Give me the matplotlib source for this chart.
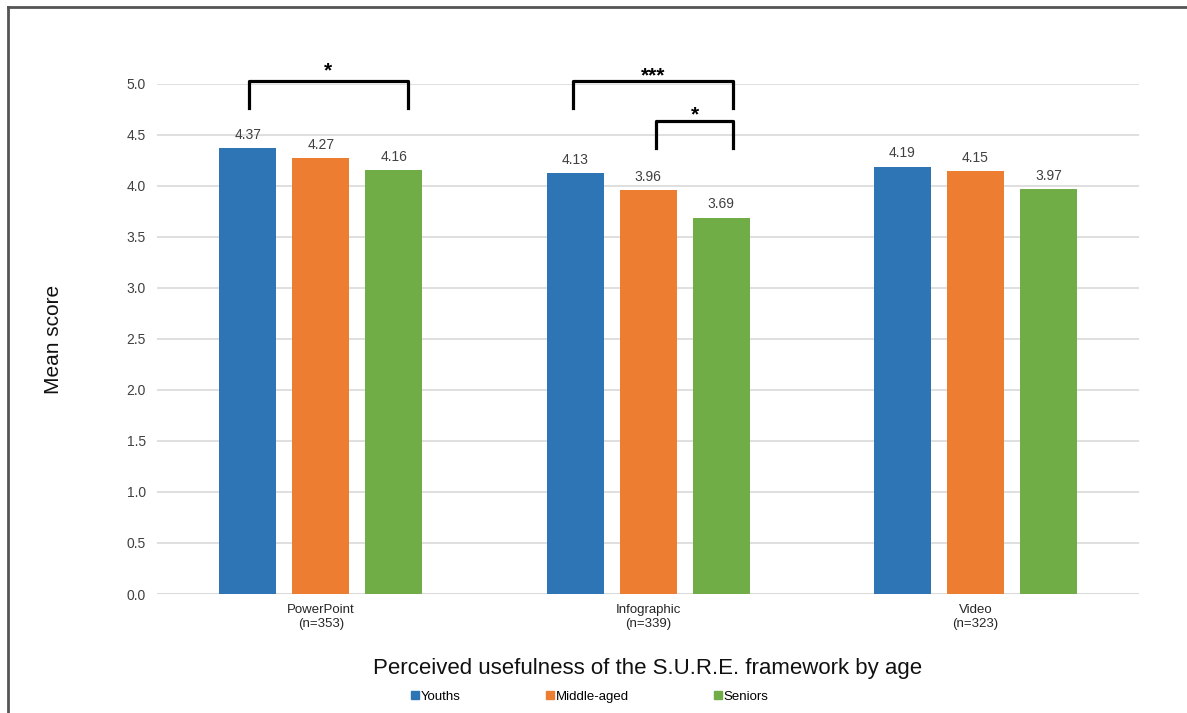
import matplotlib.pyplot as plt
from matplotlib.lines import Line2D
import numpy as np

plt.rcParams['font.family'] = ['Liberation Sans', 'DejaVu Sans']

categories = ["PowerPoint\n(n=353)", "Infographic\n(n=339)", "Video\n(n=323)"]
groups = ["Youths", "Middle-aged", "Seniors"]
youths = [4.37, 4.13, 4.19]
middle_aged = [4.27, 3.96, 4.15]
seniors = [4.16, 3.69, 3.97]
yticks = [0.0, 0.5, 1.0, 1.5, 2.0, 2.5, 3.0, 3.5, 4.0, 4.5, 5.0]
colors = ["#2E75B6", "#ED7D31", "#70AD47"]

fig = plt.figure(figsize=(11.87, 7.13), dpi=100)
ax = fig.add_axes([0.1323, 0.1669, 0.8273, 0.7153])

x = np.arange(len(categories))
width = 0.174
step = 0.223
series = [youths, middle_aged, seniors]
for i, (vals, col, name) in enumerate(zip(series, colors, groups)):
    pos = x + (i - 1) * step
    ax.bar(pos, vals, width=width, color=col, label=name, zorder=3)
    for p, v in zip(pos, vals):
        ax.text(p, v + 0.06, f"{v:.2f}", ha="center", va="bottom",
                fontsize=10, color="#404040", zorder=4)

ax.set_xlim(-0.5, 2.5)
ax.set_ylim(0, 5.0)
ax.set_yticks(yticks)
ax.set_yticklabels([f"{t:.1f}" for t in yticks], fontsize=10, color="#404040")
ax.set_xticks(x)
ax.set_xticklabels(categories, fontsize=9.5, color="#262626", linespacing=1.25)
ax.tick_params(axis="both", length=0, pad=8)
ax.tick_params(axis="x", pad=7)
ax.yaxis.grid(True, color="#D9D9D9", linewidth=1.2, zorder=0)
for s in ax.spines.values():
    s.set_visible(False)
ax.axhline(0, color="#D9D9D9", linewidth=1.2, zorder=1)

ax.set_ylabel("Mean score", fontsize=15, color="#111111", labelpad=46)


def bracket(x0, x1, ytop, ybot, label, label_y):
    ax.plot([x0, x0, x1, x1], [ybot, ytop, ytop, ybot], color="black",
            linewidth=2.3, clip_on=False, zorder=5)
    ax.text((x0 + x1) / 2, label_y, label, ha="center", va="center",
            fontsize=15, fontweight="bold", clip_on=False)


bracket(-0.22, 0.267, 5.03, 4.76, "*", 5.13)
bracket(0.77, 1.259, 5.03, 4.76, "***", 5.08)
bracket(1.025, 1.259, 4.64, 4.37, "*", 4.70)

ax.text(0.5, -0.147, "Perceived usefulness of the S.U.R.E. framework by age",
        transform=ax.transAxes, ha="center", va="center", fontsize=16,
        color="#111111")

handles = [Line2D([0], [0], marker="s", linestyle="none", color=c,
                  markersize=6) for c in colors]
fig.legend(handles, groups, loc="center", bbox_to_anchor=(0.497, 0.023),
           ncol=3, frameon=False, fontsize=9.5, handlelength=0.6,
           handletextpad=0.1, columnspacing=6.5)

# outer frame (left and top edges)
fig.add_artist(Line2D([8 / 1187, 8 / 1187], [0, 1 - 7 / 713],
                      transform=fig.transFigure, color="#555555", linewidth=2))
fig.add_artist(Line2D([8 / 1187, 1], [1 - 7 / 713, 1 - 7 / 713],
                      transform=fig.transFigure, color="#555555", linewidth=2))

fig.savefig("out.png", dpi=100, facecolor="white")
